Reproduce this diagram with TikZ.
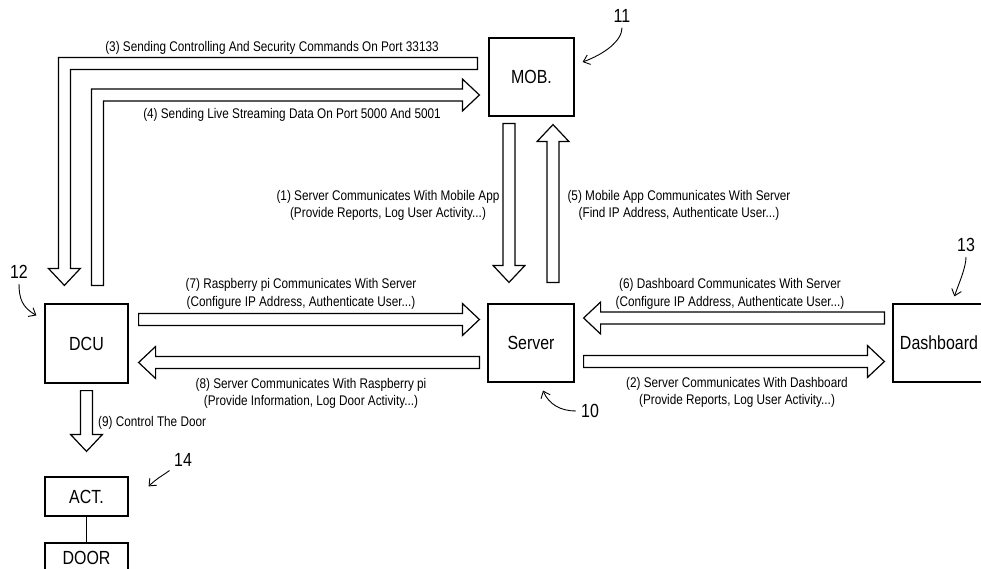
\documentclass[tikz,border=0pt]{standalone}
\usepackage{fontspec}
\setmainfont{Liberation Sans}
\newfontfamily\narrowfont[FakeStretch=0.84]{Liberation Sans}
\usepackage{tikz}
\usetikzlibrary{calc,arrows.meta}
\newcommand{\fatarrow}[2]{%
  \draw[fat] let \p1=(#1), \p2=(#2),
      \n1={veclen(\x2-\x1,\y2-\y1)},
      \n2={(\x2-\x1)/\n1}, \n3={(\y2-\y1)/\n1} in
    ({\x1-\n3*6pt},{\y1+\n2*6pt})
    -- ({\x2-\n2*17pt-\n3*6pt},{\y2-\n3*17pt+\n2*6pt})
    -- ({\x2-\n2*17pt-\n3*16pt},{\y2-\n3*17pt+\n2*16pt})
    -- (\x2,\y2)
    -- ({\x2-\n2*17pt+\n3*16pt},{\y2-\n3*17pt-\n2*16pt})
    -- ({\x2-\n2*17pt+\n3*6pt},{\y2-\n3*17pt-\n2*6pt})
    -- ({\x1+\n3*6pt},{\y1-\n2*6pt}) -- cycle;
}

\begin{document}
\begin{tikzpicture}[
    x=1pt,y=-1pt,
    box/.style={draw,line width=1.2pt,minimum width=85pt,minimum height=78pt,inner sep=0pt,font=\narrowfont\fontsize{19}{19}\selectfont},
    fat/.style={draw,line width=1.2pt,fill=white,line join=miter},
    txt/.style={align=center,inner sep=0pt,font=\narrowfont\fontsize{14}{17.5}\selectfont},
    num/.style={inner sep=2pt,font=\narrowfont\fontsize{19}{19}\selectfont},
    lead/.style={line width=0.9pt,shorten <=3pt,-{Straight Barb[length=6pt,width=10pt]}}
    ]
    \path[fill=white,use as bounding box] (0,0) rectangle (981,569);
    \node[box] (mob) at (531.5,77) {MOB.};
    \node[box,minimum width=83pt,minimum height=79pt] (dcu) at (86.5,343.5) {DCU};
    \node[box,minimum width=86pt] (srv) at (531,343) {Server};
    \node[box,minimum width=92pt] (dash) at (939,343) {Dashboard};
    \node[box,minimum width=83pt,minimum height=39pt] (act) at (86.5,496.5) {ACT.};
    \node[box,minimum width=83pt,minimum height=30pt] (door) at (86.5,558) {DOOR};
    \draw[line width=1.2pt] (act) -- (door);

    \coordinate (c3end) at ($(mob.west)+(-11,-13.5)$);
    \coordinate (c3tip) at ($(dcu.north west)+(20,-18)$);
    \coordinate (c3bend) at (c3tip |- c3end);
    \draw[fat] ($(c3end)+(0,-6)$) -- ($(c3bend)+(-6,-6)$) -- ($(c3tip)+(-6,-17)$) -- ($(c3tip)+(-16,-17)$) -- (c3tip)
      -- ($(c3tip)+(16,-17)$) -- ($(c3tip)+(6,-17)$) -- ($(c3bend)+(6,6)$) -- ($(c3end)+(0,6)$) -- cycle;
    \coordinate (c4start) at ($(dcu.north)+(11,-18)$);
    \coordinate (c4tip) at ($(mob.west)+(-9,18)$);
    \coordinate (c4bend) at (c4start |- c4tip);
    \draw[fat] ($(c4start)+(-6,0)$) -- ($(c4bend)+(-6,-6)$) -- ($(c4tip)+(-17,-6)$) -- ($(c4tip)+(-17,-16)$) -- (c4tip)
      -- ($(c4tip)+(-17,16)$) -- ($(c4tip)+(-17,6)$) -- ($(c4bend)+(6,6)$) -- ($(c4start)+(6,0)$) -- cycle;

    \fatarrow{$(mob.south)+(-22.5,7)$}{$(srv.north)+(-22,-21)$}
    \fatarrow{$(srv.north)+(22,-21)$}{$(mob.south)+(21.5,8)$}
    \fatarrow{$(dcu.east)+(10,-24)$}{$(srv.west)+(-8,-23.5)$}
    \fatarrow{$(srv.west)+(-8,19.5)$}{$(dcu.east)+(10,19)$}
    \fatarrow{$(dash.west)+(-8,-25)$}{$(srv.east)+(9,-25)$}
    \fatarrow{$(srv.east)+(9,18.5)$}{$(dash.west)+(-8,18.5)$}
    \fatarrow{$(dcu.south)+(0,7)$}{$(act.north)+(0,-25)$}

    \node[txt] (l3) at (272,48) {(3) Sending Controlling And Security Commands On Port 33133};
    \node[txt] (l4) at (292,115) {(4) Sending Live Streaming Data On Port 5000 And 5001};
    \node[txt] (l1) at (388,205.5) {(1) Server Communicates With Mobile App\\(Provide Reports, Log User Activity...)};
    \node[txt] (l5) at (679,205.5) {(5) Mobile App Communicates With Server\\(Find IP Address, Authenticate User...)};
    \node[txt] (l7) at (301,294) {(7) Raspberry pi Communicates With Server\\(Configure IP Address, Authenticate User...)};
    \node[txt] (l8) at (311,393.5) {(8) Server Communicates With Raspberry pi\\(Provide Information, Log Door Activity...)};
    \node[txt] (l6) at (730,294) {(6) Dashboard Communicates With Server\\(Configure IP Address, Authenticate User...)};
    \node[txt] (l2) at (737,392.5) {(2) Server Communicates With Dashboard\\(Provide Reports, Log User Activity...)};
    \node[txt,anchor=west] (l9) at (98,423) {(9) Control The Door};

    \node[num] (n11) at (622,16) {11};
    \node[num] (n12) at (19,272) {12};
    \node[num] (n10) at (590,411) {10};
    \node[num] (n13) at (966,245) {13};
    \node[num] (n14) at (183,460) {14};
    \draw[lead] (n11.south) .. controls +(0,16) and +(22,-8) .. ($(mob.east)+(8,-15)$);
    \draw[lead] (n12.south) .. controls +(0,18) and +(-14,-8) .. ($(dcu.north west)+(-8,12)$);
    \draw[lead] (n10.west) .. controls +(-18,0) and +(6,14) .. ($(srv.south)+(12,8)$);
    \draw[lead] (n13.south) .. controls +(0,14) and +(4,-12) .. ($(dash.north west)+(62,-7)$);
    \draw[lead] (n14.south west) .. controls +(-8,6) and +(8,-8) .. ($(act.north east)+(20,10)$);
  \end{tikzpicture}
\end{document}
